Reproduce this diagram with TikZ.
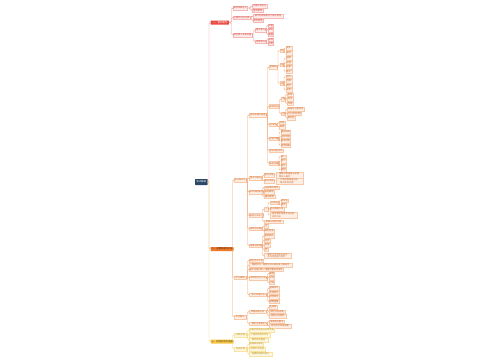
\documentclass[tikz,border=0pt]{standalone}
\usepackage{fontspec}
\newfontfamily\cjk{Noto Sans CJK SC}
\definecolor{navy}{HTML}{2C4766}
\definecolor{rmain}{HTML}{E84A3F}
\definecolor{rline}{HTML}{F29B95}
\definecolor{rfill}{HTML}{FDEDEC}
\definecolor{rborder}{HTML}{F5B8B3}
\definecolor{rtext}{HTML}{D0453B}
\definecolor{omain}{HTML}{F07A2B}
\definecolor{oline}{HTML}{F4A672}
\definecolor{ofill}{HTML}{FDEFE5}
\definecolor{oborder}{HTML}{F8C9A9}
\definecolor{otext}{HTML}{C8672C}
\definecolor{ymain}{HTML}{F7C646}
\definecolor{yline}{HTML}{F6D67C}
\definecolor{yfill}{HTML}{FEF7E1}
\definecolor{yborder}{HTML}{F9E3A0}
\definecolor{ytext}{HTML}{B38F24}
\newcommand\mnode[6]{\node[#1,minimum width=#2pt] (#3) at (#4,#5) {#6};}
\newcommand\mlink[3]{\draw[#1] (#2.east) -| ([xshift=-1.5pt]#3.west) -- (#3.west);}
\begin{document}
\begin{tikzpicture}[x=1pt,y=-1pt,
  base/.style={anchor=west,inner xsep=0.5pt,inner ysep=0.3pt,minimum height=3.4pt,
    font=\cjk\fontsize{2.2}{2.6}\selectfont,line width=0.2pt,align=left},
  rn/.style={base,fill=rfill,draw=rborder,text=rtext},
  on/.style={base,fill=ofill,draw=oborder,text=otext},
  yn/.style={base,fill=yfill,draw=yborder,text=ytext},
  lvone/.style={anchor=west,inner xsep=0.6pt,inner ysep=0.3pt,minimum height=4pt,
    font=\cjk\fontsize{2.4}{2.8}\selectfont,rounded corners=0.5pt},
  rl/.style={draw=rline,line width=0.45pt,rounded corners=1.2pt},
  ol/.style={draw=oline,line width=0.45pt,rounded corners=1.2pt},
  yl/.style={draw=yline,line width=0.45pt,rounded corners=1.2pt}]
\useasboundingbox[fill=white] (0,0) rectangle (500,360);
% root and main branches
\node[lvone,fill=navy,text=white,minimum height=6pt,minimum width=12.5pt] (R) at (195,182) {知识框架};
\mnode{lvone,fill=rmain,text=white}{18.5}{L1}{210.5}{22.5}{一、基本概念}
\mnode{lvone,fill=omain,text=black!75!omain}{21.5}{L2}{210.5}{249}{二、主要内容与方法}
\mnode{lvone,fill=ymain,text=black!65!ymain}{21.5}{L3}{210.5}{341.5}{三、实践应用与拓展}
\mlink{rl}{R}{L1}
\mlink{ol}{R}{L2}
\mlink{yl}{R}{L3}
% red branch
\mnode{rn}{14}{a1}{233}{8}{概念及其定义}
\mnode{rn}{15}{a11}{252}{6}{内涵外延区分}
\mnode{rn}{11}{a12}{252}{10.5}{基本属性}
\mnode{rn}{17}{a2}{233}{17.5}{主要特点与分类}
\mnode{rn}{30}{a21}{253}{16}{按不同标准划分为若干类型}
\mnode{rn}{10}{a22}{253}{20.5}{常见类型}
\mnode{rn}{19}{a3}{233}{35}{研究意义及其价值}
\mnode{rn}{11}{b1}{255}{30}{理论意义}
\mnode{rn}{5}{b11}{268}{25.5}{完善}
\mnode{rn}{5}{b12}{268}{30}{深化}
\mnode{rn}{5}{b13}{268}{34.5}{拓展}
\mnode{rn}{11}{b2}{255}{41.5}{实践意义}
\mnode{rn}{5}{b21}{268}{39.5}{指导}
\mnode{rn}{5}{b22}{268}{43.5}{应用}
\foreach \c in {a1,a2,a3} {\mlink{rl}{L1}{\c}}
\foreach \c in {a11,a12} {\mlink{rl}{a1}{\c}}
\foreach \c in {a21,a22} {\mlink{rl}{a2}{\c}}
\foreach \c in {b1,b2} {\mlink{rl}{a3}{\c}}
\foreach \c in {b11,b12,b13} {\mlink{rl}{b1}{\c}}
\foreach \c in {b21,b22} {\mlink{rl}{b2}{\c}}
% orange branch: A
\mnode{on}{12}{A}{234}{180}{核心知识点}
\mnode{on}{17.5}{P1}{249}{115}{基本原理与规律}
\mnode{on}{8}{R1}{269}{67}{原理类}
\mnode{on}{4}{S1}{279.5}{50.5}{甲}
\mnode{on}{6}{s11}{285.5}{48}{条件}
\mnode{on}{6}{s12}{285.5}{53}{结论}
\mnode{on}{4}{S2}{279.5}{64.75}{乙}
\mnode{on}{6}{s21}{285.5}{58}{前提}
\mnode{on}{6}{s22}{285.5}{62.5}{过程}
\mnode{on}{6}{s23}{285.5}{67}{结果}
\mnode{on}{6}{s24}{285.5}{71.5}{意义}
\mnode{on}{4}{S3}{279.5}{83.25}{丙}
\mnode{on}{6}{s31}{285.5}{76.5}{特点}
\mnode{on}{6}{s32}{285.5}{81}{范围}
\mnode{on}{6}{s33}{285.5}{85.5}{例外}
\mnode{on}{6}{s34}{285.5}{90}{注意}
\mnode{on}{10}{R2}{269}{106.25}{规律类别}
\mnode{on}{4}{T1}{281}{99}{甲}
\mnode{on}{6}{t11}{287}{94.5}{表现}
\mnode{on}{6}{t12}{287}{99}{形式}
\mnode{on}{6}{t13}{287}{103.5}{作用}
\mnode{on}{4}{T2}{281}{113.5}{乙}
\mnode{on}{17}{t21}{287}{109}{普遍性与客观性}
\mnode{on}{14}{t22}{287}{113.5}{可认识可利用}
\mnode{on}{8}{t23}{287}{118}{相对性}
\mnode{on}{8}{Q3}{269}{124.75}{方法论}
\mnode{on}{6}{q31}{279}{122.5}{归纳}
\mnode{on}{6}{q32}{279}{127}{演绎}
\mnode{on}{9}{Q4}{269}{138.75}{实施步骤}
\mnode{on}{9}{q41}{280.5}{132}{提出问题}
\mnode{on}{9}{q42}{280.5}{136.5}{分析问题}
\mnode{on}{9}{q43}{280.5}{141}{解决问题}
\mnode{on}{9}{q44}{280.5}{145.5}{检验结果}
\mnode{on}{13}{Q5}{269}{150.5}{常见误区辨析}
\mnode{on}{9}{Q6}{269}{163.25}{典型例题}
\mnode{on}{5}{q61}{280.5}{156.5}{例一}
\mnode{on}{5}{q62}{280.5}{161}{例二}
\mnode{on}{5}{q63}{280.5}{165.5}{例三}
\mnode{on}{5}{q64}{280.5}{170}{例四}
\mnode{on}{13}{P6}{249}{178}{重点与难点}
\mnode{on}{10}{p61}{264}{175}{重点内容}
\mnode{on}{27}{p611}{275.5}{175}{理解并掌握基本原理\\和核心概念}
\mnode{on}{10}{p62}{264}{181}{难点内容}
\mnode{on}{27}{p621}{275.5}{181}{灵活运用原理分析\\解决实际问题}
\mnode{on}{13}{P7}{249}{192}{知识间的联系}
\mnode{on}{15}{p71}{264}{187.5}{与前章的联系}
\mnode{on}{10}{p72}{264}{192}{纵向联系}
\mnode{on}{11}{p73}{264}{196.5}{横向联系}
\mnode{on}{13}{P8}{249}{215.25}{解题方法技巧}
\mnode{on}{4}{U1}{264}{209}{一}
\mnode{on}{9}{V1}{269.5}{202.75}{分析法}
\mnode{on}{7}{v11}{280.5}{200.5}{综合法}
\mnode{on}{5}{v12}{280.5}{205}{图示}
\mnode{on}{14}{V2}{269.5}{209}{逆向推理方法}
\mnode{on}{27}{V3}{269.5}{215}{结合具体情境灵活运用\\多种方法}
\mnode{on}{19}{U2}{264}{221.5}{审题与规范作答}
\mnode{on}{13}{P9}{249}{228.5}{易错点归纳}
\mnode{on}{4}{p91}{264}{226}{注}
\mnode{on}{10}{p92}{264}{231}{概念混淆}
\mnode{on}{13}{P10}{249}{245.5}{拓展与延伸}
\mnode{on}{9}{p101}{264}{236}{相关知识}
\mnode{on}{6}{p102}{264}{240.5}{热点}
\mnode{on}{6}{p103}{264}{245}{应用}
\mnode{on}{4}{p104}{264}{249.5}{例}
\mnode{on}{27}{p105}{264}{255.5}{联系生活实际与社会\\热点问题进行思考}
\mlink{ol}{L2}{A}
\foreach \c in {P1,P6,P7,P8,P9,P10} {\mlink{ol}{A}{\c}}
\foreach \c in {R1,R2,Q3,Q4,Q5,Q6} {\mlink{ol}{P1}{\c}}
\foreach \c in {S1,S2,S3} {\mlink{ol}{R1}{\c}}
\foreach \c in {s11,s12} {\mlink{ol}{S1}{\c}}
\foreach \c in {s21,s22,s23,s24} {\mlink{ol}{S2}{\c}}
\foreach \c in {s31,s32,s33,s34} {\mlink{ol}{S3}{\c}}
\foreach \c in {T1,T2} {\mlink{ol}{R2}{\c}}
\foreach \c in {t11,t12,t13} {\mlink{ol}{T1}{\c}}
\foreach \c in {t21,t22,t23} {\mlink{ol}{T2}{\c}}
\foreach \c in {q31,q32} {\mlink{ol}{Q3}{\c}}
\foreach \c in {q41,q42,q43,q44} {\mlink{ol}{Q4}{\c}}
\foreach \c in {q61,q62,q63,q64} {\mlink{ol}{Q6}{\c}}
\foreach \c in {p61,p62} {\mlink{ol}{P6}{\c}}
\mlink{ol}{p61}{p611}
\mlink{ol}{p62}{p621}
\foreach \c in {p71,p72,p73} {\mlink{ol}{P7}{\c}}
\foreach \c in {U1,U2} {\mlink{ol}{P8}{\c}}
\foreach \c in {V1,V2,V3} {\mlink{ol}{U1}{\c}}
\foreach \c in {v11,v12} {\mlink{ol}{V1}{\c}}
\foreach \c in {p91,p92} {\mlink{ol}{P9}{\c}}
\foreach \c in {p101,p102,p103,p104,p105} {\mlink{ol}{P10}{\c}}
% orange branch: B
\mnode{on}{12}{B}{234}{277.5}{学习策略}
\mnode{on}{14}{b01}{249}{260.5}{制定学习计划}
\mnode{on}{43}{b02}{249}{265}{课前预习、课堂听讲与课后复习相结合}
\mnode{on}{34}{b03}{249}{269.5}{善于总结归纳，构建完整知识体系}
\mnode{on}{18}{b04}{249}{278}{常用的记忆方法}
\mnode{on}{5}{b041}{269}{273.5}{联想}
\mnode{on}{5}{b042}{269}{278}{对比}
\mnode{on}{5}{b043}{269}{282.5}{口诀}
\mnode{on}{18}{b05}{249}{294.75}{练习巩固方法}
\mnode{on}{9}{b051}{269}{288}{基础练习}
\mnode{on}{9}{b052}{269}{292.5}{专项练习}
\mnode{on}{9}{b053}{269}{297}{综合练习}
\mnode{on}{9}{b054}{269}{301.5}{错题整理}
\mlink{ol}{L2}{B}
\foreach \c in {b01,b02,b03,b04,b05} {\mlink{ol}{B}{\c}}
\foreach \c in {b041,b042,b043} {\mlink{ol}{b04}{\c}}
\foreach \c in {b051,b052,b053,b054} {\mlink{ol}{b05}{\c}}
% orange branch: C
\mnode{on}{12}{C}{234}{317}{考试要点}
\mnode{on}{17}{W1}{249}{311.5}{命题规律分析}
\mnode{on}{7}{w11}{269}{307}{选择题}
\mnode{on}{16}{w12}{269}{311.5}{填空与判断题}
\mnode{on}{17}{w13}{269}{316}{材料分析题型}
\mnode{on}{18}{W2}{249}{323.5}{答题注意事项}
\mnode{on}{15}{w21}{269}{321.5}{审清题目要求}
\mnode{on}{22}{w22}{269}{326}{规范书写条理清晰}
\mlink{ol}{L2}{C}
\foreach \c in {W1,W2} {\mlink{ol}{C}{\c}}
\foreach \c in {w11,w12,w13} {\mlink{ol}{W1}{\c}}
\foreach \c in {w21,w22} {\mlink{ol}{W2}{\c}}
% yellow branch
\mnode{yn}{13}{Y1}{234}{335}{实践活动}
\mnode{yn}{25}{y11}{249}{330}{开展社会调查与实地考察}
\mnode{yn}{21}{y12}{249}{335}{小组合作探究学习}
\mnode{yn}{19}{y13}{249}{340}{撰写研究报告}
\mnode{yn}{13}{Y2}{234}{349}{总结反思}
\mnode{yn}{14}{y21}{249}{344}{梳理知识结构}
\mnode{yn}{16}{y22}{249}{349}{反思学习过程}
\mnode{yn}{23}{y23}{249}{354}{查漏补缺提升能力}
\foreach \c in {Y1,Y2} {\mlink{yl}{L3}{\c}}
\foreach \c in {y11,y12,y13} {\mlink{yl}{Y1}{\c}}
\foreach \c in {y21,y22,y23} {\mlink{yl}{Y2}{\c}}
\end{tikzpicture}
\end{document}
